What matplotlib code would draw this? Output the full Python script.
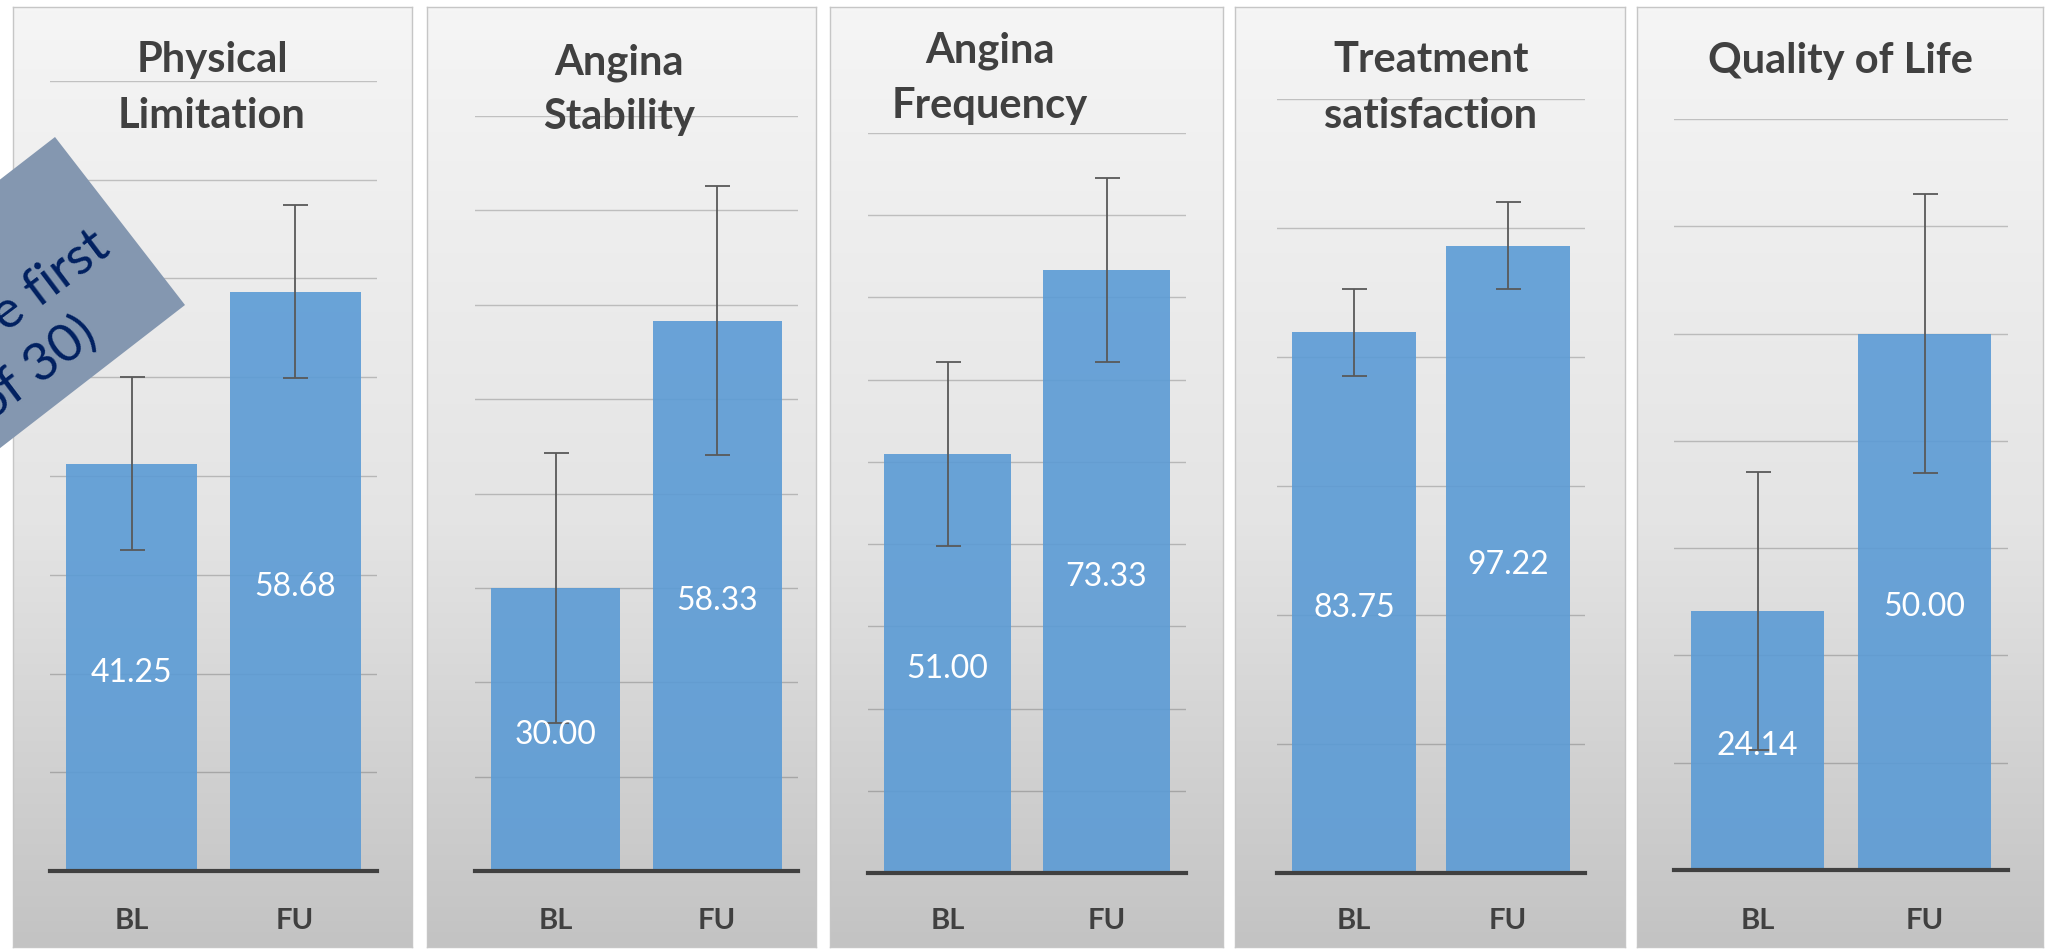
import matplotlib
matplotlib.use("Agg")
import matplotlib.pyplot as plt
from matplotlib.patches import Polygon
from matplotlib.colors import LinearSegmentedColormap
import numpy as np

# ==== data ====
titles = ["Physical\nLimitation", "Angina\nStability", "Angina\nFrequency",
          "Treatment\nsatisfaction", "Quality of Life"]
groups = ["BL", "FU"]
bl_means = [41.25, 30.00, 51.00, 83.75, 24.14]
fu_means = [58.68, 58.33, 73.33, 97.22, 50.00]
errors = [8.75, 14.3, 11.2, 6.75, 13.0]
y_max = [80, 80, 90, 120, 70]
y_step = [10, 10, 10, 20, 10]
note_lines = ["e first", "of 30)"]

# ==== layout (pixels of the 2049x952 picture) ====
W, H = 2049, 952
panel_x = [(13, 412), (427, 816), (830, 1223), (1235, 1625), (1637, 2043)]
panel_y = (7, 947)
axes_x = [(50, 377), (475, 798), (868, 1186), (1277, 1585), (1674, 2008)]
axes_base = [871, 871, 873, 873, 870]
axes_top = [81, 116, 133, 98.5, 119]
title_cx = [212, 619, 990, 1431, 1841]
title_base = [(72, 128), (75, 129), (62, 118), (72, 128), (73,)]

bar_color = "#5B9BD5"
text_dark = "#404040"

plt.rcParams["font.family"] = ["Lato", "DejaVu Sans"]

fig = plt.figure(figsize=(W / 100, H / 100), dpi=100)
fig.patch.set_facecolor("white")

grad = LinearSegmentedColormap.from_list(
    "bg", [(0.0, "#c3c3c3"), (0.45, "#e4e4e4"), (1.0, "#f5f5f5")])


def fx(px):
    return px / W


def fy(py):
    return 1 - py / H


for i in range(len(titles)):
    # background panel with gradient
    x0, x1 = panel_x[i]
    bg = fig.add_axes([fx(x0), fy(panel_y[1]), fx(x1 - x0), (panel_y[1] - panel_y[0]) / H])
    bg.imshow(np.linspace(0, 1, 256).reshape(-1, 1)[::-1], cmap=grad, aspect="auto",
              extent=[0, 1, 0, 1], origin="upper")
    bg.set_xticks([])
    bg.set_yticks([])
    for s in bg.spines.values():
        s.set_color("#c6c6c6")
        s.set_linewidth(1)

    # data axes
    a0, a1 = axes_x[i]
    ax = fig.add_axes([fx(a0), fy(axes_base[i]), fx(a1 - a0),
                       (axes_base[i] - axes_top[i]) / H])
    ax.patch.set_alpha(0)
    vals = [bl_means[i], fu_means[i]]
    xpos = np.arange(len(groups))
    ax.bar(xpos, vals, width=0.8, color=bar_color, alpha=0.9, zorder=2)
    ax.errorbar(xpos, vals, yerr=errors[i], fmt="none", ecolor="#595959",
                elinewidth=1.3, capsize=9, capthick=1.3, zorder=3)
    for xp, v in zip(xpos, vals):
        ax.annotate(f"{v:.2f}", (xp, v / 2), xytext=(0, -4), textcoords="offset points",
                    color="white", fontsize=23, ha="center", va="center", zorder=4)

    ax.set_xlim(-0.5, 1.5)
    ax.set_ylim(0, y_max[i])
    ax.set_yticks(np.arange(y_step[i], y_max[i] + 1, y_step[i]))
    ax.grid(axis="y", color="black", alpha=0.2, linewidth=1, zorder=1)
    ax.set_axisbelow(True)
    ax.tick_params(left=False, labelleft=False, bottom=False, labelbottom=False)
    for s in ["top", "right", "left"]:
        ax.spines[s].set_visible(False)
    ax.spines["bottom"].set_color(text_dark)
    ax.spines["bottom"].set_linewidth(3)
    ax.spines["bottom"].set_zorder(5)

    # category labels
    for xp, g in zip(xpos, groups):
        xf = fx(a0 + (xp + 0.5) / 2 * (a1 - a0))
        fig.text(xf, fy(929), g, fontsize=21, fontweight="bold", color=text_dark,
                 ha="center", va="baseline")

    # title, one text per line
    for line, yb in zip(titles[i].split("\n"), title_base[i]):
        fig.text(fx(title_cx[i]), fy(yb), line, fontsize=30, fontweight="bold",
                 color=text_dark, ha="center", va="baseline")

# rotated note box in the top left corner, cut by the picture edge
top = np.array([55, 137])
right = np.array([185, 305])
d = np.array([-0.791, 0.612]) * 420
corners = [top, right, right + d, top + d]
box = Polygon([(fx(c[0]), fy(c[1])) for c in corners], closed=True,
              transform=fig.transFigure, facecolor="#8497B0", edgecolor="none",
              zorder=6)
fig.patches.append(box)

note_pos = [(6, 333), (-10, 423)]
for txt, (px, py) in zip(note_lines, note_pos):
    fig.text(fx(px), fy(py), txt, fontsize=38, color="#002060", rotation=37,
             rotation_mode="anchor", ha="left", va="baseline", zorder=7)

plt.savefig("out.png", dpi=100)
